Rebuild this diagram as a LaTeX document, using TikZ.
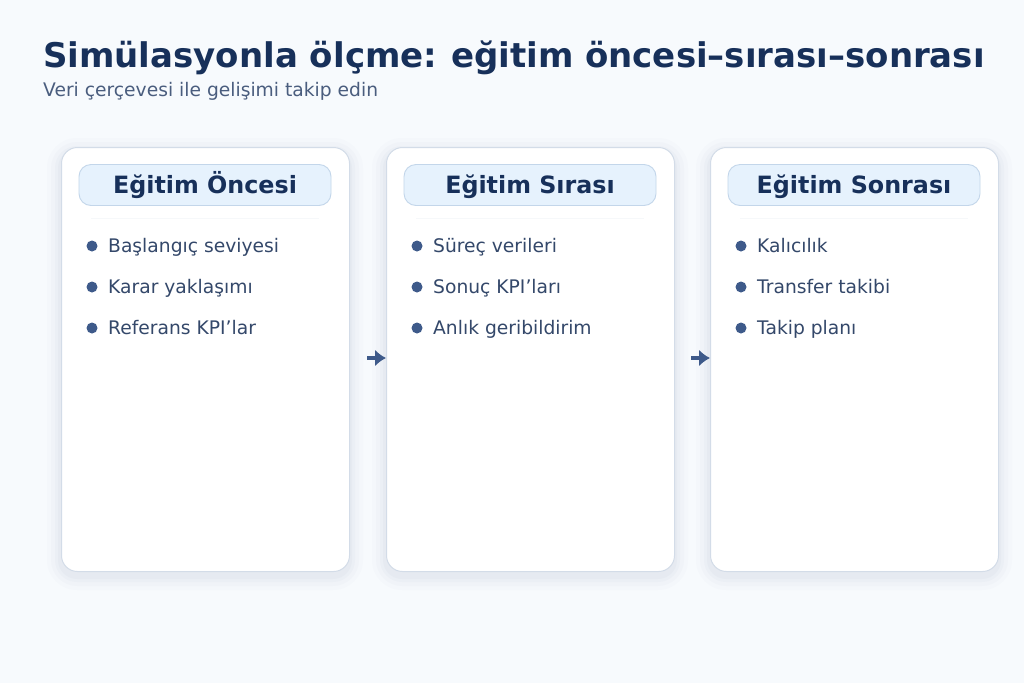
\documentclass[tikz,border=0pt]{standalone}
\usepackage{fontspec}
\setmainfont{DejaVu Sans}
\usetikzlibrary{arrows.meta}
\definecolor{bg}{HTML}{F7FAFD}
\definecolor{navy}{HTML}{17305A}
\definecolor{subc}{HTML}{4A5D7E}
\definecolor{cardb}{HTML}{D3DCE8}
\definecolor{pillf}{HTML}{E6F2FD}
\definecolor{pillb}{HTML}{C3D6EA}
\definecolor{itemc}{HTML}{34486A}
\definecolor{dotc}{HTML}{3E5A8A}
\definecolor{shad}{HTML}{9AA8C0}
\tikzset{
  card/.style={draw=cardb, line width=1pt, fill=white, rounded corners=16pt},
  pill/.style={draw=pillb, line width=0.9pt, fill=pillf, rounded corners=12pt, minimum width=252pt, minimum height=41pt, inner sep=0pt, font=\fontsize{23.8}{28}\selectfont\bfseries, text=navy},
  item/.style={anchor=base west, inner sep=0pt, font=\fontsize{18.7}{22}\selectfont, text=itemc},
  dot/.style={circle, fill=dotc, inner sep=0pt, minimum size=11pt},
  conn/.style={draw=dotc, line width=4.5pt, -{Latex[length=11pt,width=17pt]}},
}
\begin{document}
\begin{tikzpicture}[x=1pt,y=-1pt]
\useasboundingbox (0,0) rectangle (1024,683);
\fill[bg] (0,0) rectangle (1024,683);
\node[anchor=base west, inner sep=0pt, font=\fontsize{34}{40}\selectfont\bfseries, text=navy] (title) at (43,67) {Simülasyonla ölçme:\hspace{-2pt} eğitim öncesi–sırası–sonrası};
\node[anchor=base west, inner sep=0pt, font=\fontsize{18.7}{22}\selectfont, text=subc] (sub) at (43,96) {Veri çerçevesi ile gelişimi takip edin};
\foreach \x/\n/\h/\a/\b/\c in {61/c1/Eğitim Öncesi/Başlangıç seviyesi/Karar yaklaşımı/Referans KPI’lar,
  386/c2/Eğitim Sırası/Süreç verileri/Sonuç KPI’ları/Anlık geribildirim,
  710/c3/Eğitim Sonrası/Kalıcılık/Transfer takibi/Takip planı}{
  \foreach \s/\o in {14/0.03,10/0.04,6/0.05,3/0.06}{
    \fill[shad, opacity=\o, rounded corners=16pt+\s] (\x-\s,147-\s+5) rectangle (\x+288+\s,571+\s+5);
  }
  \node[card, minimum width=288pt, minimum height=424pt, inner sep=0pt, anchor=north west] (\n) at (\x,147) {};
  \node[pill, text depth=0pt] (\n h) at (\x+144,185) {\raisebox{-8.5pt}[0pt][0pt]{\h}};
  \draw[cardb!20, line width=0.8pt] (\x+30,218) -- (\x+258,218);
  \node[dot] (\n d1) at (\x+31,246) {};
  \node[dot] (\n d2) at (\x+31,287) {};
  \node[dot] (\n d3) at (\x+31,328) {};
  \node[item] (\n i1) at (\x+47,252.5) {\a};
  \node[item] (\n i2) at (\x+47,293.5) {\b};
  \node[item] (\n i3) at (\x+47,334.5) {\c};
}
\coordinate (a1) at (367,358);
\coordinate (a2) at (691,358);
\draw[conn] (a1) -- (c2.west |- a1);
\draw[conn] (a2) -- (c3.west |- a2);
\end{tikzpicture}
\end{document}
